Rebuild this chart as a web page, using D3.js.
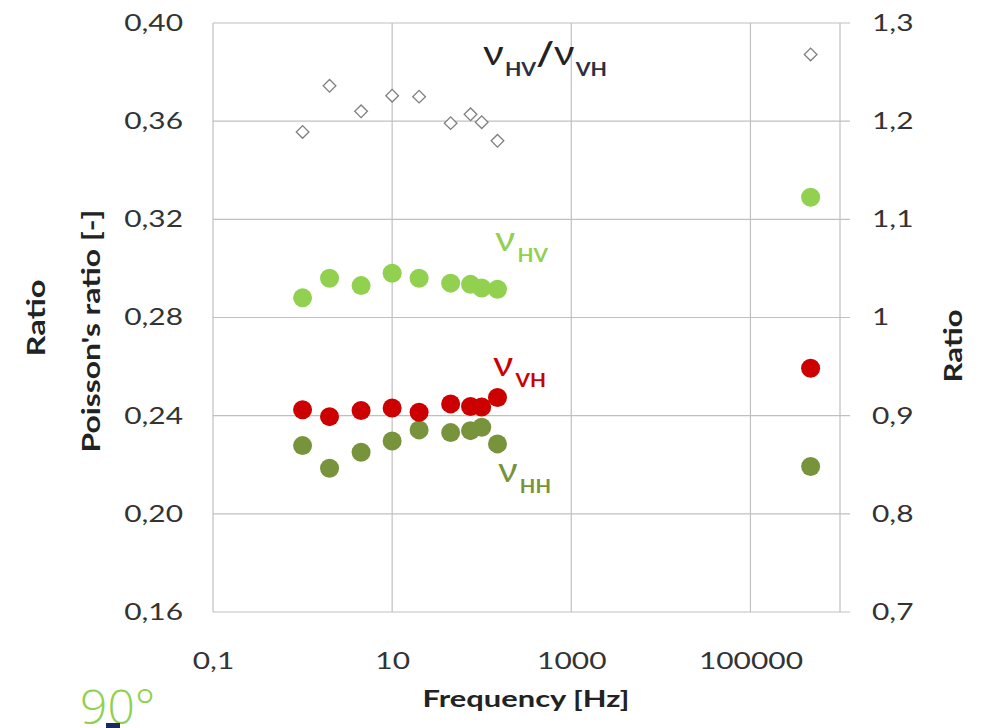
<!DOCTYPE html>
<html>
<head>
<meta charset="utf-8">
<script src="https://cdn.jsdelivr.net/npm/d3@7/dist/d3.min.js"></script>
<style>
  html, body { margin: 0; padding: 0; background: #fff; }
  svg { display: block; }
  text { font-family: Lato, "Open Sans", "Liberation Sans", sans-serif; }
</style>
</head>
<body>
<svg id="chart" width="981" height="728"></svg>
<script>
// ---- data ----
const frequencies = [1, 2, 4.5, 10, 20, 45, 75, 100, 150, 470000];
const nuHV = [0.288, 0.296, 0.293, 0.298, 0.296, 0.294, 0.2935, 0.292, 0.2915, 0.329];
const nuVH = [0.2424, 0.2396, 0.2421, 0.2431, 0.2414, 0.2448, 0.2437, 0.2435, 0.2474, 0.2593];
const nuHH = [0.2278, 0.2186, 0.2251, 0.2297, 0.2342, 0.2331, 0.2339, 0.2353, 0.2285, 0.2193];
const ratioHVVH = [1.189, 1.236, 1.210, 1.226, 1.225, 1.198, 1.207, 1.199, 1.180, 1.268];
const xTicks = [0.1, 10, 1000, 100000];
const xTickLabels = ["0,1", "10", "1000", "100000"];
const yLeftTicks = [0.16, 0.20, 0.24, 0.28, 0.32, 0.36, 0.40];
const yRightTicks = [0.7, 0.8, 0.9, 1.0, 1.1, 1.2, 1.3];

const svg = d3.select("#chart");
const L = 213, R = 840, T = 23, B = 612;

const x = d3.scaleLog().domain([0.1, 1e6]).range([L, R]);
const yL = d3.scaleLinear().domain([0.16, 0.40]).range([B, T]);
const yR = d3.scaleLinear().domain([0.7, 1.3]).range([B, T]);

const grid = "#c0c0c0";
const tickFont = 23;
const stretchFactor = 1.3;
const fmtL = d => d3.format(".2f")(d).replace(".", ",");
const fmtR = d => (d === 1 ? "1" : d3.format(".1f")(d).replace(".", ","));

function stretch(sel, factor) {
  sel.each(function () {
    const w = this.getComputedTextLength();
    d3.select(this).attr("textLength", w * factor).attr("lengthAdjust", "spacingAndGlyphs");
  });
}
function fitTo(sel, len) {
  sel.attr("textLength", len).attr("lengthAdjust", "spacingAndGlyphs");
}

// horizontal gridlines (extend to right for right-axis ticks)
svg.append("g").selectAll("line").data(yLeftTicks).join("line")
  .attr("x1", L).attr("x2", R + 10)
  .attr("y1", d => yL(d)).attr("y2", d => yL(d))
  .attr("stroke", grid).attr("stroke-width", 1.2);

// vertical gridlines
svg.append("g").selectAll("line").data(xTicks.concat([1e6])).join("line")
  .attr("x1", d => x(d)).attr("x2", d => x(d))
  .attr("y1", T).attr("y2", B)
  .attr("stroke", grid).attr("stroke-width", 1.2);

// left axis
const gl = svg.append("g").attr("transform", `translate(${L},0)`)
  .call(d3.axisLeft(yL).tickValues(yLeftTicks).tickFormat(fmtL).tickSize(0).tickPadding(30));
gl.select(".domain").remove();
gl.selectAll("text").attr("font-size", tickFont).attr("fill", "#333")
  .style("font-family", "Lato, sans-serif").call(stretch, stretchFactor);

// right axis
const gr = svg.append("g").attr("transform", `translate(${R},0)`)
  .call(d3.axisRight(yR).tickValues(yRightTicks).tickFormat(fmtR).tickSize(0).tickPadding(32));
gr.select(".domain").remove();
gr.selectAll("text").attr("font-size", tickFont).attr("fill", "#333")
  .style("font-family", "Lato, sans-serif").call(stretch, stretchFactor);

// bottom axis
const gb = svg.append("g").attr("transform", `translate(0,${B})`)
  .call(d3.axisBottom(x).tickValues(xTicks).tickFormat((d, i) => xTickLabels[i]).tickSize(0).tickPadding(41));
gb.select(".domain").remove();
gb.selectAll("text").attr("font-size", tickFont).attr("fill", "#333")
  .style("font-family", "Lato, sans-serif").call(stretch, stretchFactor);

// data: circles
function dots(values, color) {
  svg.append("g").selectAll("circle").data(values).join("circle")
    .attr("cx", (d, i) => x(frequencies[i]))
    .attr("cy", d => yL(d))
    .attr("r", 9.5)
    .attr("fill", color);
}
dots(nuHV, "#92d050");
dots(nuHH, "#77933c");
dots(nuVH, "#cc0000");

// ratio diamonds (right axis)
const diamond = d3.symbol().type(d3.symbolSquare).size(80);
svg.append("g").selectAll("path").data(ratioHVVH).join("path")
  .attr("d", diamond)
  .attr("transform", (d, i) => `translate(${x(frequencies[i])},${yR(d)}) rotate(45)`)
  .attr("fill", "#fff").attr("stroke", "#7f7f7f").attr("stroke-width", 1.3);

// series labels
function nuLabel(xp, yp, sub, color, len) {
  const t = svg.append("text").attr("x", xp).attr("y", yp).attr("fill", color);
  t.append("tspan").text("ν").attr("font-size", 34);
  t.append("tspan").text(sub).attr("font-size", 18).attr("font-weight", "bold")
    .attr("dy", 11).attr("dx", 2);
  fitTo(t, len);
  return t;
}
nuLabel(495, 251, "HV", "#92d050", 53);
nuLabel(493, 376, "VH", "#cc0000", 53);
nuLabel(498, 482, "HH", "#77933c", 53);

// title ratio label
const tt = svg.append("text").attr("x", 483).attr("y", 65).attr("fill", "#222");
tt.append("tspan").text("ν").attr("font-size", 34);
tt.append("tspan").text("HV").attr("font-size", 18).attr("font-weight", "bold").attr("dy", 11).attr("dx", 1).attr("fill", "#2a2f45");
tt.append("tspan").text("/").attr("font-size", 32).attr("font-weight", "bold").attr("dy", -11);
tt.append("tspan").text("ν").attr("font-size", 34);
tt.append("tspan").text("VH").attr("font-size", 18).attr("font-weight", "bold").attr("dy", 11).attr("dx", 1).attr("fill", "#2a2f45");
fitTo(tt, 124);

// axis titles
svg.append("text").attr("transform", "translate(100,331) rotate(-90)")
  .attr("text-anchor", "middle").attr("font-size", 24).attr("font-weight", "bold").attr("fill", "#222")
  .text("Poisson's ratio [-]").call(fitTo, 243);
svg.append("text").attr("transform", "translate(45,318) rotate(-90)")
  .attr("text-anchor", "middle").attr("font-size", 25).attr("font-weight", "bold").attr("fill", "#222")
  .text("Ratio").call(fitTo, 77);
svg.append("text").attr("transform", "translate(962,346) rotate(-90)")
  .attr("text-anchor", "middle").attr("font-size", 25).attr("font-weight", "bold").attr("fill", "#222")
  .text("Ratio").call(fitTo, 73);
svg.append("text").attr("x", 526).attr("y", 707)
  .attr("text-anchor", "middle").attr("font-size", 22).attr("font-weight", "bold").attr("fill", "#222")
  .text("Frequency [Hz]").call(fitTo, 207);

// overlay fragment bottom-left
svg.append("text").attr("x", 80).attr("y", 724)
  .attr("font-size", 48).attr("font-weight", 300).attr("fill", "#8fd14f")
  .style("font-family", "'Open Sans', sans-serif")
  .text("90°");
svg.append("rect").attr("x", 106).attr("y", 723).attr("width", 14).attr("height", 5).attr("fill", "#1b2a5c");
</script>
</body>
</html>
